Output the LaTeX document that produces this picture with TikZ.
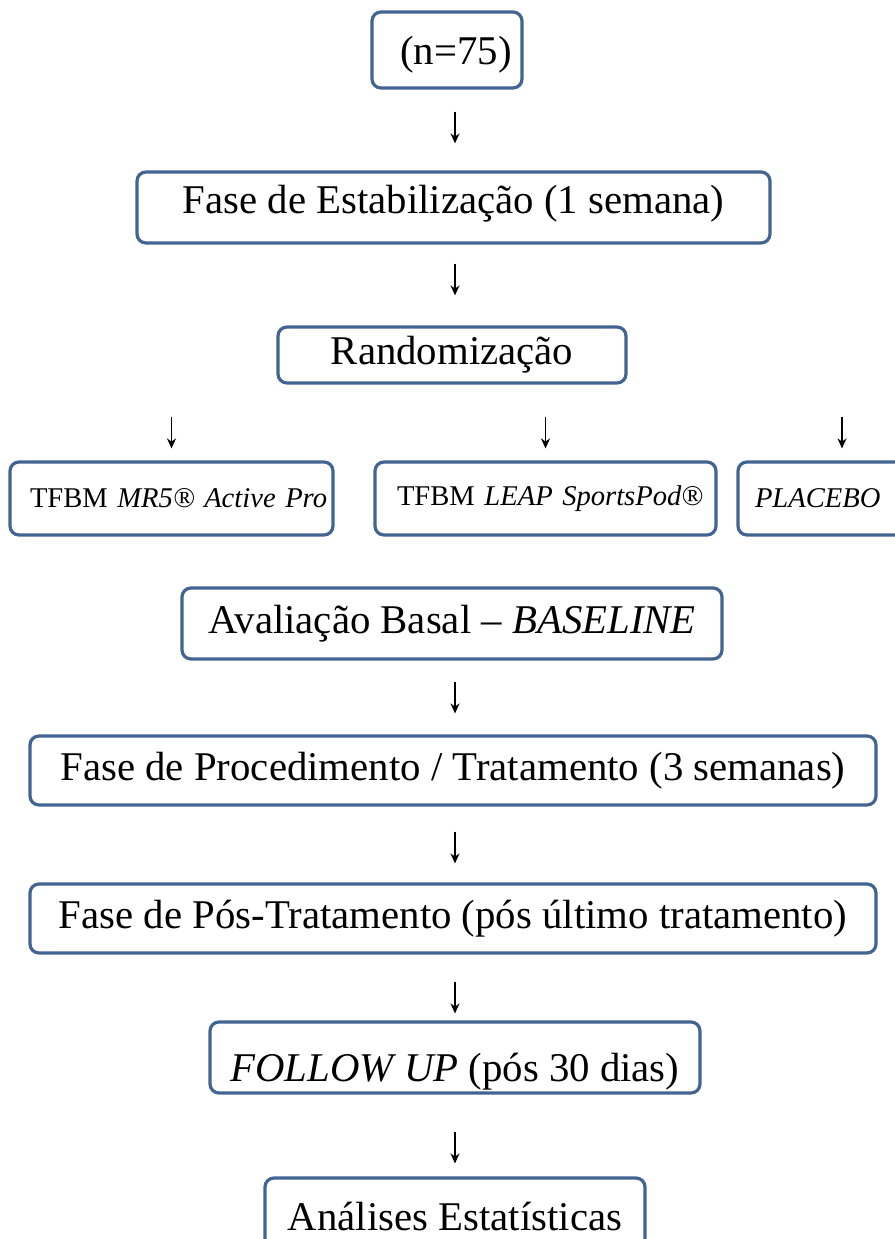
\documentclass[tikz,border=0pt]{standalone}
\usepackage{fontspec}
\setmainfont{Liberation Serif}
\usepackage{tikz}
\usetikzlibrary{arrows.meta}
\definecolor{boxblue}{RGB}{66,100,146}

\begin{document}
\begin{tikzpicture}[x = 1pt, y = -1pt,
								box/.style = {draw = boxblue, line width = 3.2pt,
								rounded corners = 9pt, fill = white, inner sep = 0pt,
								font = \fontsize{40.8}{48}\selectfont},
								grupo/.style = {box, align = left, inner xsep = 22pt,
								font = \fontsize{28.6}{34}\selectfont},
								seta/.style = {-{Stealth[length = 10pt, width = 9pt]},
								line width = 1.7pt, black}]

				\useasboundingbox (0,0) rectangle (894,1239);
				\coordinate (eixo) at (455,0);

				\node [box, minimum width = 150pt, minimum height = 76pt, text height = 33pt, text depth = 3pt] (amostra) at (447,50) {\hspace*{18pt}(n=75)};
				\node [box, minimum width = 633pt, minimum height = 71pt, text height = 29pt, text depth = 18pt] (estab) at (453.5,207.5) {Fase de Estabilização (1 semana)};
				\node [box, minimum width = 348pt, minimum height = 56pt] (rand) at (452,355) {Randomização};

				\node [grupo, text width = 283pt, minimum height = 73pt, inner xsep = 20pt] (t_1) at (171.5,498.5) {\mbox{TFBM \textit{MR5® Active Pro}}};
				\node [grupo, text width = 297pt, minimum height = 73pt] (t_2) at (545.5,498.5) {\mbox{TFBM \textit{LEAP SportsPod®}}};
				\node [grupo, text width = 174pt, minimum height = 73pt, inner xsep = 17pt] (t_3) at (842,498.5) {\textit{PLACEBO}};

				\node [box, minimum width = 540pt, minimum height = 71pt] (basal) at (452,623.5) {Avaliação Basal -- \textit{BASELINE}};
				\node [box, minimum width = 846pt, minimum height = 69pt] (proc) at (453,770.5) {Fase de Procedimento / Tratamento (3 semanas)};
				\node [box, minimum width = 846pt, minimum height = 69pt] (pos) at (453,918.5) {Fase de Pós-Tratamento (pós último tratamento)};
				\node [box, minimum width = 490pt, minimum height = 71pt, text height = 48pt, text depth = 0pt] (follow) at (455,1057.5) {\textit{FOLLOW UP} (pós 30 dias)};
				\node [box, minimum width = 380pt, minimum height = 76pt] (anal) at (455,1216) {Análises Estatísticas};

				\draw [seta, shorten < = 22pt, shorten > = 27pt] (amostra.south -| eixo) -- (estab.north -| eixo);
				\draw [seta, shorten < = 19pt, shorten > = 30pt] (estab.south -| eixo) -- (rand.north -| eixo);
				\draw [seta, shorten < = 32pt, shorten > = 12pt] (rand.south -| t_1) -- (t_1.north);
				\draw [seta, shorten < = 32pt, shorten > = 12pt] (rand.south -| t_2) -- (t_2.north);
				\draw [seta, shorten < = 32pt, shorten > = 12pt] (rand.south -| t_3) -- (t_3.north);
				\draw [seta, shorten < = 21pt, shorten > = 21pt] (basal.south -| eixo) -- (proc.north -| eixo);
				\draw [seta, shorten < = 25pt, shorten > = 19pt] (proc.south -| eixo) -- (pos.north -| eixo);
				\draw [seta, shorten < = 27pt, shorten > = 7pt] (pos.south -| eixo) -- (follow.north -| eixo);
				\draw [seta, shorten < = 37pt, shorten > = 13pt] (follow.south -| eixo) -- (anal.north -| eixo);
			\end{tikzpicture}
\end{document}
